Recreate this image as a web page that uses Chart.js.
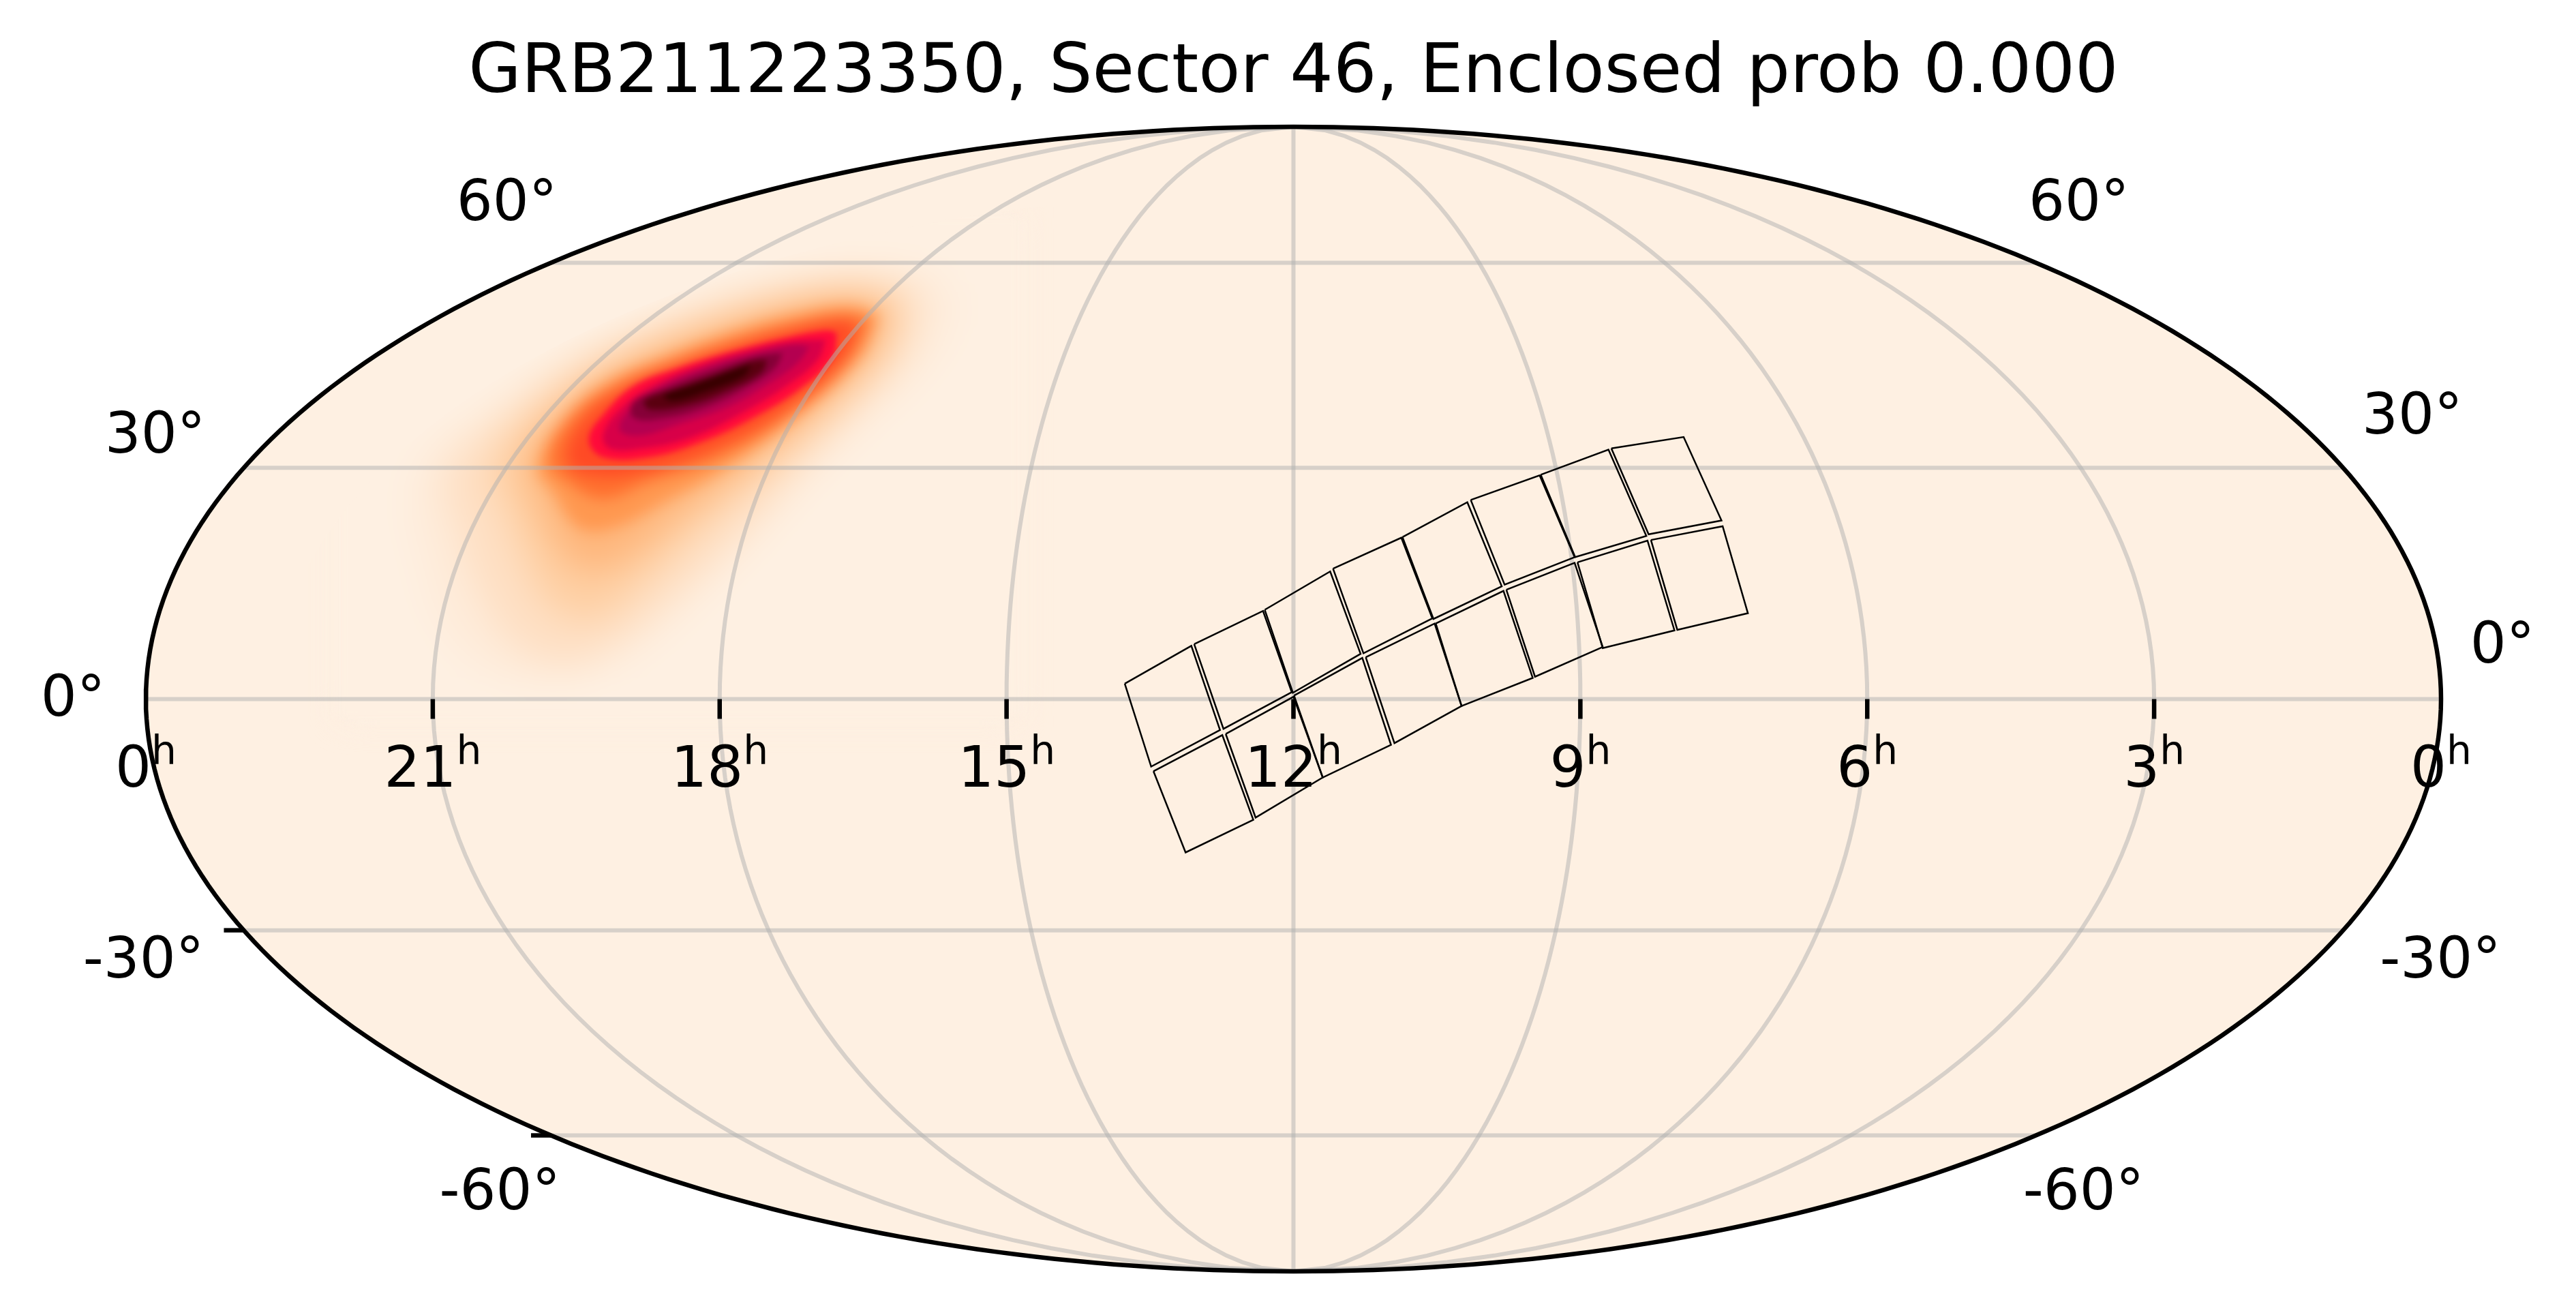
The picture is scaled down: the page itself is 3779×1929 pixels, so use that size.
<!DOCTYPE html>
<html>
<head>
<meta charset="utf-8">
<style>body{margin:0;background:#fff}canvas{display:block}</style>
<script src="https://cdn.jsdelivr.net/npm/chart.js@4"></script>
</head>
<body>
<canvas id="skyMap" width="3779" height="1929"></canvas>
<script>
const titleText = "GRB211223350, Sector 46, Enclosed prob 0.000";
// right ascension (hours) and declination (degrees) of the graticule
const raHours = [21, 18, 15, 12, 9, 6, 3];
const decLines = [-60, -30, 0, 30, 60];
const raLabels = ["0", "21", "18", "15", "12", "9", "6", "3", "0"];
// [text, map x, map y]
const decLabels = [
    ["60°", -1.371, 0.863], ["60°", 1.369, 0.863],
    ["30°", -1.984, 0.456], ["30°", 1.950, 0.490],
    ["0°", -2.127, -0.003], ["0°", 2.107, 0.089],
    ["-30°", -2.004, -0.461], ["-30°", 1.999, -0.461],
    ["-60°", -1.383, -0.866], ["-60°", 1.377, -0.866]
];
// outline of the 16 CCD footprints, map plane coordinates
const upperTiles = [
    [[-.294,.027],[-.178,.093],[-.128,-.054],[-.248,-.118]],
    [[-.173,.096],[-.053,.154],[-.003,.012],[-.122,-.052]],
    [[-.050,.156],[.064,.223],[.117,.079],[-.001,.011]],
    [[.069,.228],[.188,.282],[.242,.141],[.122,.080]],
    [[.190,.283],[.303,.344],[.363,.197],[.244,.140]],
    [[.309,.348],[.429,.391],[.490,.248],[.368,.200]],
    [[.431,.392],[.549,.436],[.615,.285],[.491,.248]],
    [[.554,.438],[.680,.458],[.746,.312],[.619,.288]]
];
const lowerTiles = [
    [[-.244,-.126],[-.124,-.063],[-.070,-.211],[-.188,-.268]],
    [[-.118,-.061],[0,.004],[.051,-.137],[-.066,-.207]],
    [[.001,.006],[.120,.072],[.170,-.080],[.051,-.137]],
    [[.126,.073],[.246,.132],[.293,-.012],[.176,-.077]],
    [[.248,.132],[.366,.189],[.417,.037],[.293,-.012]],
    [[.371,.191],[.490,.238],[.539,.091],[.421,.039]],
    [[.495,.239],[.617,.277],[.664,.120],[.539,.089]],
    [[.623,.278],[.748,.302],[.792,.150],[.669,.121]]
];
// probability map read as nested iso-level outlines, lowest level first
const heatColors = ["#FEEBD9", "#FEDFC3", "#FECFA3", "#FEB57A", "#FF9850", "#FF6F2E", "#FF4A25",
    "#FF0A3A", "#D80048", "#B40050", "#860038", "#5A0010", "#380000"];
const heatContours = [
    [[-.600,.725],[-.600,.650],[-.660,.562],[-.750,.480],[-.850,.381],[-.950,.270],[-1.060,.160],[-1.160,.075],[-1.272,.030],[-1.390,.045],[-1.475,.115],[-1.515,.227],[-1.535,.356],[-1.500,.440],[-1.405,.495],[-1.300,.575],[-1.185,.635],[-1.060,.680],[-.917,.722],[-.781,.750],[-.670,.755]],
    [[-.650,.712],[-.670,.614],[-.750,.516],[-.845,.418],[-.950,.300],[-1.065,.190],[-1.170,.105],[-1.259,.065],[-1.355,.095],[-1.422,.195],[-1.458,.304],[-1.478,.381],[-1.440,.445],[-1.348,.522],[-1.250,.590],[-1.140,.642],[-1.013,.690],[-.883,.724],[-.747,.738]],
    [[-.680,.700],[-.706,.609],[-.795,.511],[-.910,.407],[-1.025,.305],[-1.130,.205],[-1.218,.140],[-1.296,.165],[-1.345,.250],[-1.380,.345],[-1.400,.392],[-1.360,.465],[-1.262,.548],[-1.156,.610],[-1.033,.662],[-.890,.702],[-.761,.716]],
    [[-.706,.685],[-.734,.603],[-.829,.505],[-.952,.405],[-1.068,.320],[-1.156,.250],[-1.231,.225],[-1.285,.270],[-1.318,.345],[-1.340,.407],[-1.298,.485],[-1.215,.558],[-1.109,.610],[-.993,.652],[-.877,.688],[-.768,.702]],
    [[-.720,.672],[-.754,.598],[-.856,.500],[-.986,.405],[-1.095,.345],[-1.184,.300],[-1.245,.300],[-1.290,.360],[-1.318,.407],[-1.268,.495],[-1.192,.558],[-1.095,.600],[-.986,.641],[-.877,.672],[-.774,.688]],
    [[-.738,.662],[-.772,.593],[-.875,.498],[-.999,.423],[-1.122,.380],[-1.204,.350],[-1.265,.380],[-1.297,.418],[-1.255,.497],[-1.172,.554],[-1.081,.591],[-.979,.627],[-.877,.655],[-.781,.673]],
    [[-.760,.655],[-.790,.591],[-.893,.503],[-1.020,.434],[-1.136,.397],[-1.218,.392],[-1.264,.414],[-1.242,.480],[-1.166,.543],[-1.075,.583],[-.972,.617],[-.877,.645],[-.795,.660]],
    [[-.796,.640],[-.803,.598],[-.856,.545],[-.945,.490],[-1.033,.449],[-1.122,.423],[-1.204,.423],[-1.228,.454],[-1.200,.500],[-1.149,.548],[-1.075,.578],[-.986,.606],[-.883,.632],[-.815,.644]],
    [[-.815,.628],[-.829,.593],[-.883,.548],[-.965,.498],[-1.054,.456],[-1.136,.438],[-1.192,.438],[-1.203,.464],[-1.165,.515],[-1.109,.552],[-1.033,.584],[-.952,.609],[-.870,.626]],
    [[-.843,.616],[-.863,.588],[-.911,.553],[-.986,.510],[-1.075,.479],[-1.143,.460],[-1.175,.472],[-1.149,.515],[-1.095,.551],[-1.013,.584],[-.931,.607],[-.870,.619]],
    [[-.890,.605],[-.904,.578],[-.952,.545],[-1.020,.512],[-1.095,.491],[-1.149,.491],[-1.151,.518],[-1.095,.544],[-1.013,.575],[-.938,.599]],
    [[-.917,.593],[-.928,.570],[-.986,.539],[-1.054,.514],[-1.122,.506],[-1.131,.522],[-1.075,.543],[-1.006,.567],[-.945,.590]],
    [[-.945,.585],[-.958,.565],[-1.020,.539],[-1.081,.521],[-1.097,.531],[-1.047,.549],[-.986,.572]]
];
// softening applied once the outlines up to that level are drawn
const heatBlurAfter = { 3: 24, 6: 10, 12: 4 };

// mollweide: solve 2t + sin 2t = pi sin(lat)
function auxAngle(dec) {
    const lat = dec * Math.PI / 180;
    if (Math.abs(dec) === 90) return lat;
    let t = lat;
    for (let i = 0; i < 60; i++) {
        t -= (2 * t + Math.sin(2 * t) - Math.PI * Math.sin(lat)) / (2 + 2 * Math.cos(2 * t));
    }
    return t;
}
function project(ra, dec) {
    const t = auxAngle(dec);
    return { x: (12 - ra) / 6 * Math.cos(t), y: Math.sin(t) };
}

const skyFill = "#FEF0E2";
const gridColor = "rgba(176,176,176,0.5)";
const datasets = [];
function addLine(points, extra) {
    datasets.push(Object.assign({
        data: points, showLine: true, pointRadius: 0, borderColor: "#000", borderWidth: 2.5,
        fill: false, clip: false, tension: 0
    }, extra));
}
const toPoints = p => p.map(q => ({ x: q[0], y: q[1] }));

const outline = [];
for (let a = 0; a <= 360; a += 1) {
    outline.push({ x: 2 * Math.cos(a * Math.PI / 180), y: Math.sin(a * Math.PI / 180) });
}
addLine(outline, { order: 100, borderWidth: 0, backgroundColor: skyFill, fill: "shape" });

heatContours.forEach((c, i) => {
    addLine(toPoints(c.concat([c[0]])), {
        order: 90 - i, borderWidth: 0, backgroundColor: heatColors[i], fill: "shape", tension: 0.4, blurAfter: heatBlurAfter[i]
    });
});

decLines.forEach(d => {
    const p = project(0, d);
    addLine([{ x: -p.x, y: p.y }, { x: p.x, y: p.y }], { order: 20, borderColor: gridColor, borderWidth: 6 });
});
raHours.forEach(h => {
    const line = [];
    for (let d = -90; d <= 90; d += 2) line.push(project(h, d));
    addLine(line, { order: 20, borderColor: gridColor, borderWidth: 6 });
});
upperTiles.concat(lowerTiles).forEach(t => {
    addLine(toPoints(t.concat([t[0]])), { order: 10 });
});
raHours.forEach(h => {
    const p = project(h, 0);
    addLine([{ x: p.x, y: 0 }, { x: p.x, y: -0.0345 }], { order: 5, borderWidth: 6.5 });
});
[-30, -60].forEach(d => {
    const p = project(0, d);
    addLine([{ x: -p.x, y: p.y }, { x: -p.x - 0.0345, y: p.y }], { order: 5, borderWidth: 6.5 });
});
addLine(outline, { order: 1, borderWidth: 6.5 });

const fontName = "'DejaVu Sans'";
const smoothHeat = {
    id: "smoothHeat",
    afterDatasetDraw(chart, args) {
        const blur = chart.data.datasets[args.index].blurAfter;
        if (!blur) return;
        const ctx = chart.ctx, xs = chart.scales.x, ys = chart.scales.y;
        const l = xs.getPixelForValue(-1.66), r = xs.getPixelForValue(-0.48);
        const t = ys.getPixelForValue(0.84), b = ys.getPixelForValue(-0.03);
        const cx = xs.getPixelForValue(0), cy = ys.getPixelForValue(0);
        ctx.save();
        // stay well inside the sky oval so the white page does not bleed in
        ctx.beginPath();
        ctx.ellipse(cx, cy, (xs.right - xs.left) / 2 * 0.89, (ys.bottom - ys.top) / 2 * 0.89, 0, 0, Math.PI * 2);
        ctx.clip();
        ctx.filter = "blur(" + blur + "px)";
        ctx.drawImage(chart.canvas, l, t, r - l, b - t, l, t, r - l, b - t);
        ctx.restore();
    }
};
const axisText = {
    id: "axisText",
    afterDatasetsDraw(chart) {
        const ctx = chart.ctx, xs = chart.scales.x, ys = chart.scales.y;
        ctx.save();
        ctx.fillStyle = "#000";
        ctx.textBaseline = "middle";
        ctx.textAlign = "center";
        ctx.font = "83.3px " + fontName;
        decLabels.forEach(l => ctx.fillText(l[0], xs.getPixelForValue(l[1]), ys.getPixelForValue(l[2])));
        ctx.textBaseline = "alphabetic";
        ctx.textAlign = "left";
        raLabels.forEach((lab, i) => {
            ctx.font = "83.3px " + fontName;
            const w = ctx.measureText(lab).width;
            ctx.font = "58.3px " + fontName;
            const wh = ctx.measureText("h").width;
            const left = xs.getPixelForValue(-2 + i * 0.5) - (w + wh) / 2;
            const base = ys.getPixelForValue(-0.153);
            ctx.font = "83.3px " + fontName;
            ctx.fillText(lab, left, base);
            ctx.font = "58.3px " + fontName;
            ctx.fillText("h", left + w, base - 33);
        });
        ctx.restore();
    }
};

new Chart(document.getElementById("skyMap").getContext("2d"), {
    type: "scatter",
    data: { datasets },
    options: {
        responsive: false,
        devicePixelRatio: 1,
        animation: false,
        layout: { padding: { left: 214, right: 198, top: 0, bottom: 64 } },
        scales: {
            x: { type: "linear", min: -2, max: 2, display: false },
            y: { type: "linear", min: -1, max: 1, display: false }
        },
        plugins: {
            legend: { display: false },
            tooltip: { enabled: false },
            title: {
                display: true, text: titleText, color: "#000",
                font: { family: fontName, size: 100, weight: "normal", lineHeight: 1.2 },
                padding: { top: 49, bottom: 17 }
            }
        }
    },
    plugins: [smoothHeat, axisText]
});
</script>
</body>
</html>
